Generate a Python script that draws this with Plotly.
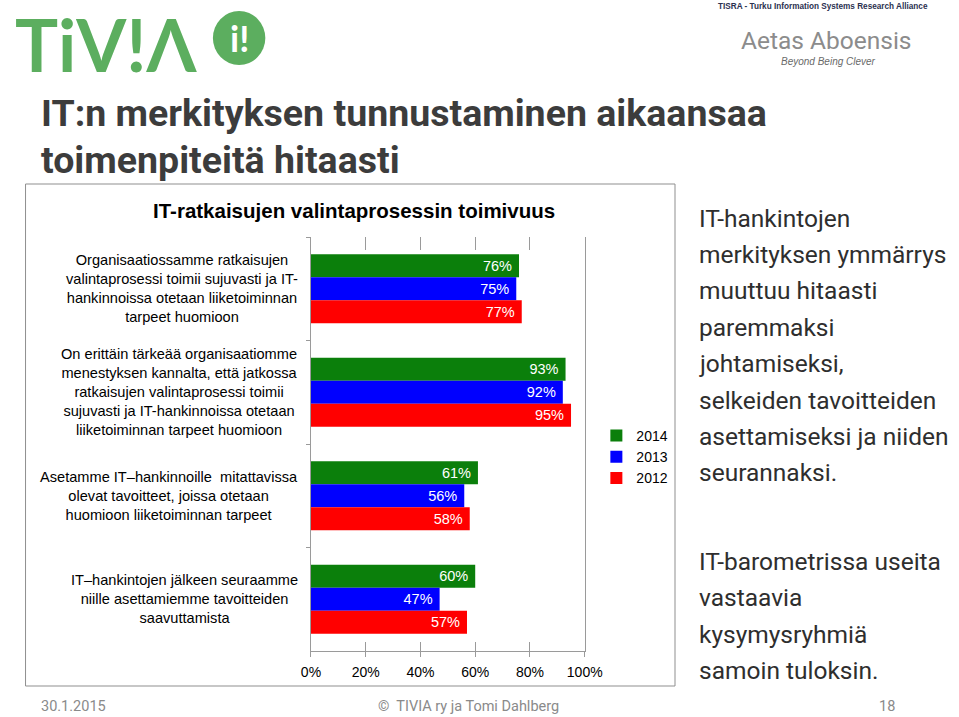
import plotly.graph_objects as go

W, H = 959, 717

# ---------------- data ----------------
categories = [
    "Organisaatiossamme ratkaisujen<br>valintaprosessi toimii sujuvasti ja IT-<br>hankinnoissa otetaan liiketoiminnan<br>tarpeet huomioon",
    "On erittäin tärkeää organisaatiomme<br>menestyksen kannalta, että jatkossa<br>ratkaisujen valintaprosessi toimii<br>sujuvasti ja IT-hankinnoissa otetaan<br>liiketoiminnan tarpeet huomioon",
    "Asetamme IT–hankinnoille  mitattavissa<br>olevat tavoitteet, joissa otetaan<br>huomioon liiketoiminnan tarpeet",
    "IT–hankintojen jälkeen seuraamme<br>niille asettamiemme tavoitteiden<br>saavuttamista",
]
years = ["2014", "2013", "2012"]
values_2014 = [76, 93, 61, 60]
values_2013 = [75, 92, 56, 47]
values_2012 = [77, 95, 58, 57]
series_values = [values_2014, values_2013, values_2012]
colors = ["#0b7f0b", "#0000ff", "#ff0000"]

x_tick_values = [0, 20, 40, 60, 80, 100]
x_tick_labels = ["0%", "20%", "40%", "60%", "80%", "100%"]

chart_title = "IT-ratkaisujen valintaprosessin toimivuus"
slide_title_lines = ["IT:n merkityksen tunnustaminen aikaansaa", "toimenpiteitä hitaasti"]
side_text_1 = ["IT-hankintojen", "merkityksen ymmärrys", "muuttuu hitaasti", "paremmaksi",
               "johtamiseksi,", "selkeiden tavoitteiden", "asettamiseksi ja niiden", "seurannaksi."]
side_text_2 = ["IT-barometrissa useita", "vastaavia", "kysymysryhmiä", "samoin tuloksin."]


def px(x):
    return x / W


def py(y):
    return 1 - y / H


SANS = "Liberation Sans, Arial, Helvetica, sans-serif"
NARROW = "Roboto, Liberation Sans, sans-serif"

fig = go.Figure()
for name, vals, col in zip(years, series_values, colors):
    fig.add_trace(go.Bar(
        y=categories, x=vals, name=name, orientation="h",
        marker=dict(color=col, line=dict(width=0)),
        text=[f"{v}%\u00a0" for v in vals],
        textposition="inside", insidetextanchor="end",
        textfont=dict(color="white", size=14.5, family=SANS),
        constraintext="none",
        legendgroup=name,
        hoverinfo="skip",
    ))

# empty helper traces so overlay axes (tick marks only) are drawn
fig.add_trace(go.Scatter(x=[], y=[], xaxis="x2", showlegend=False, hoverinfo="skip"))
fig.add_trace(go.Scatter(x=[], y=[], xaxis="x3", showlegend=False, hoverinfo="skip"))

dom_x = [px(310), px(592)]
dom_y = [py(651), py(237)]
axis_col = "#9a9a9a"

fig.update_layout(
    width=W, height=H, autosize=False,
    margin=dict(l=0, r=0, t=0, b=0),
    paper_bgcolor="white", plot_bgcolor="white",
    barmode="group", bargap=0.333, bargroupgap=0,
    showlegend=True,
    legend=dict(x=px(604), y=py(420), xanchor="left", yanchor="top",
                font=dict(family=SANS, size=14, color="black"),
                bgcolor="rgba(0,0,0,0)", tracegroupgap=8, traceorder="normal"),
    xaxis=dict(domain=dom_x, range=[0, 100], tickvals=x_tick_values, ticktext=x_tick_labels,
               showgrid=False, zeroline=False, showline=True, linecolor=axis_col, linewidth=1,
               ticks="outside", ticklen=5, tickcolor=axis_col, ticklabelstandoff=3,
               tickfont=dict(family=SANS, size=14, color="black"), anchor="y", fixedrange=True),
    xaxis2=dict(domain=dom_x, range=[0, 100], overlaying="x", side="top", anchor="y",
                tickvals=x_tick_values[1:-1], showticklabels=False, showgrid=False,
                zeroline=False, showline=False, ticks="inside", ticklen=13, tickcolor=axis_col),
    xaxis3=dict(domain=dom_x, range=[0, 100], overlaying="x", side="bottom", anchor="y",
                tickvals=x_tick_values, showticklabels=False, showgrid=False,
                zeroline=False, showline=False, ticks="inside", ticklen=9, tickcolor=axis_col),
    yaxis=dict(domain=dom_y, type="category", categoryorder="array", categoryarray=categories,
               range=[3.5, -0.5], showticklabels=False, showgrid=False, zeroline=False,
               showline=True, mirror=True, linecolor=axis_col, linewidth=1,
               ticks="outside", ticklen=4, tickson="boundaries", tickcolor=axis_col,
               fixedrange=True),
)

ann = []
# category labels (centred lines, block right aligned near the axis)
for c in categories:
    ann.append(dict(xref="paper", yref="y", x=px(299), y=c, xanchor="right", yanchor="middle",
                    text=c, align="center", showarrow=False,
                    font=dict(family=SANS, size=14.6, color="black")))
# chart title
ann.append(dict(xref="paper", yref="paper", x=px(354), y=py(210), xanchor="center", yanchor="middle",
                text="<b>" + chart_title + "</b>", showarrow=False,
                font=dict(family=SANS, size=20.5, color="black")))
# slide title
for i, line in enumerate(slide_title_lines):
    ann.append(dict(xref="paper", yref="paper", x=px(30), y=py(113 + 47 * i), xanchor="left",
                    yanchor="middle", text="<b>" + line + "</b>", showarrow=False, align="left",
                    font=dict(family=NARROW, size=37.5, color="#3c3c3c")))
# right side text
for i, line in enumerate(side_text_1):
    ann.append(dict(xref="paper", yref="paper", x=px(708), y=py(218 + 36.4 * i), xanchor="left",
                    yanchor="middle", text=line, showarrow=False, align="left",
                    font=dict(family=NARROW, size=24.5, color="#2e2e2e")))
for i, line in enumerate(side_text_2):
    ann.append(dict(xref="paper", yref="paper", x=px(708), y=py(561 + 36.6 * i), xanchor="left",
                    yanchor="middle", text=line, showarrow=False, align="left",
                    font=dict(family=NARROW, size=24.5, color="#2e2e2e")))
# footer
ann.append(dict(xref="paper", yref="paper", x=px(30), y=py(706), xanchor="left", yanchor="middle",
                text="30.1.2015", showarrow=False, align="left",
                font=dict(family=NARROW, size=14.5, color="#8a8a8a")))
ann.append(dict(xref="paper", yref="paper", x=px(472), y=py(706), xanchor="center", yanchor="middle",
                text="©  TIVIA ry ja Tomi Dahlberg", showarrow=False,
                font=dict(family=NARROW, size=14.5, color="#8a8a8a")))
ann.append(dict(xref="paper", yref="paper", x=px(903), y=py(706), xanchor="center", yanchor="middle",
                text="18", showarrow=False, font=dict(family=NARROW, size=14.5, color="#8a8a8a")))
# TIVIA logo text
ann.append(dict(xref="paper", yref="paper", x=px(4), y=1, xanchor="left", yanchor="top",
                text="<b>TiV!Λ</b>", showarrow=False, align="left", borderpad=0,
                font=dict(family="Lato, Open Sans, sans-serif", size=72, color="#5cae5f")))
ann.append(dict(xref="paper", yref="paper", x=px(236), y=py(38), xanchor="center", yanchor="middle",
                text="<b>i!</b>", showarrow=False,
                font=dict(family="Lato, sans-serif", size=36, color="white")))
# TISRA block
ann.append(dict(xref="paper", yref="paper", x=px(837), y=py(6), xanchor="center", yanchor="middle",
                text="<b>TISRA - Turku Information Systems Research Alliance</b>", showarrow=False,
                font=dict(family=SANS, size=8.2, color="#2b3150")))
ann.append(dict(xref="paper", yref="paper", x=px(841), y=py(40), xanchor="center", yanchor="middle",
                text="Aetas Aboensis", showarrow=False,
                font=dict(family=NARROW, size=24.5, color="#8c8c8c")))
ann.append(dict(xref="paper", yref="paper", x=px(843), y=py(61), xanchor="center", yanchor="middle",
                text="<i>Beyond Being Clever</i>", showarrow=False,
                font=dict(family=SANS, size=10, color="#6a6a6a")))
fig.update_layout(annotations=ann)

shapes = [
    dict(type="rect", xref="paper", yref="paper", x0=px(16), x1=px(685), y0=py(686), y1=py(184),
         line=dict(color="#8f8f8f", width=1), fillcolor="rgba(0,0,0,0)", layer="below"),
    dict(type="circle", xref="paper", yref="paper", x0=px(209), x1=px(263), y0=py(65), y1=py(11),
         line=dict(width=0), fillcolor="#5cae5f", layer="below"),
]
fig.update_layout(shapes=shapes)

fig.write_html("out.html",
               post_script="document.body.style.margin='0';document.body.style.overflow='hidden';")
